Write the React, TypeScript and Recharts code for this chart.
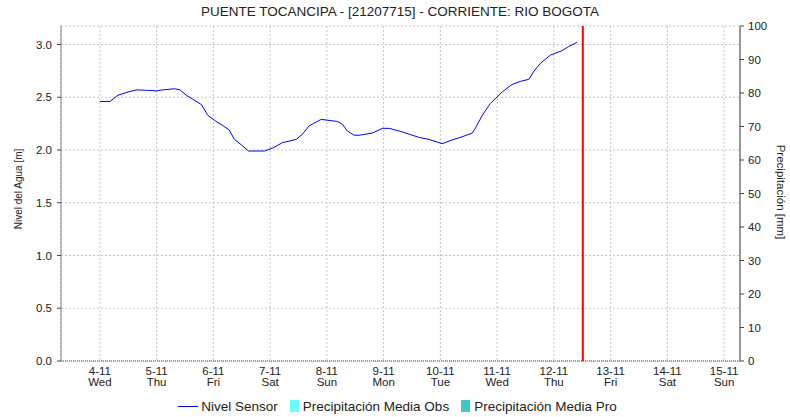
import React from "react";
import {
  ComposedChart,
  Line,
  Bar,
  XAxis,
  YAxis,
  CartesianGrid,
  ReferenceLine,
  Legend,
} from "recharts";

// Time in days since 4-11 00:00
const times = [
  0.0, 0.18, 0.32, 0.5, 0.65, 0.85, 1.0, 1.11, 1.32, 1.41, 1.52, 1.64, 1.79,
  1.9, 2.02, 2.17, 2.28, 2.37, 2.49, 2.62, 2.9, 3.05, 3.22, 3.46, 3.57, 3.69,
  3.9, 4.04, 4.19, 4.28, 4.36, 4.48, 4.57, 4.8, 4.98, 5.1, 5.27, 5.45, 5.62,
  5.8, 6.03, 6.21, 6.41, 6.56, 6.62, 6.74, 6.88, 7.09, 7.26, 7.41, 7.56, 7.64,
  7.76, 7.94, 8.14, 8.26, 8.41,
];
const nivelSensor = [
  2.46, 2.46, 2.52, 2.55, 2.57, 2.565, 2.56, 2.57, 2.58, 2.57, 2.52, 2.48, 2.43,
  2.33, 2.28, 2.23, 2.19, 2.1, 2.05, 1.99, 1.99, 2.02, 2.07, 2.1, 2.15, 2.23,
  2.29, 2.28, 2.27, 2.24, 2.18, 2.14, 2.14, 2.16, 2.205, 2.205, 2.18, 2.15,
  2.12, 2.1, 2.06, 2.095, 2.13, 2.16, 2.21, 2.33, 2.44, 2.55, 2.62, 2.65, 2.67,
  2.74, 2.82, 2.9, 2.94, 2.98, 3.02,
];
const dayTicks = [0, 1, 2, 3, 4, 5, 6, 7, 8, 9, 10, 11];
const dateLabels = [
  "4-11", "5-11", "6-11", "7-11", "8-11", "9-11", "10-11", "11-11", "12-11",
  "13-11", "14-11", "15-11",
];
const weekdayLabels = [
  "Wed", "Thu", "Fri", "Sat", "Sun", "Mon", "Tue", "Wed", "Thu", "Fri", "Sat",
  "Sun",
];
const levelTicks = [0, 0.5, 1.0, 1.5, 2.0, 2.5, 3.0];
const precipTicks = [0, 10, 20, 30, 40, 50, 60, 70, 80, 90, 100];
const nowMarker = 8.51;
const xDomain = [-0.685, 11.28];
const levelDomain = [0, 3.175];
const precipDomain = [0, 100];

const legendItems = [
  { name: "Nivel Sensor", kind: "line", color: "#0000ff" },
  { name: "Precipitación Media Obs", kind: "square", color: "#66ffff" },
  { name: "Precipitación Media Pro", kind: "square", color: "#40c8c8" },
];

// No precipitation values are shown in the chart (empty series)
const data = times.map((t, i) => ({ t, nivel: nivelSensor[i] }));

const FONT = "'Liberation Sans', Arial, sans-serif";

const XTick = (props: any) => {
  const { x, y, payload } = props;
  const idx = dayTicks.indexOf(payload.value);
  return (
    <g>
      <text x={x} y={y + 6} textAnchor="middle" fontSize={11.5} fill="#222" fontFamily={FONT}>
        {dateLabels[idx]}
      </text>
      <text x={x} y={y + 17} textAnchor="middle" fontSize={11.5} fill="#222" fontFamily={FONT}>
        {weekdayLabels[idx]}
      </text>
    </g>
  );
};

const LegendContent = () => (
  <div
    style={{
      display: "flex",
      justifyContent: "center",
      alignItems: "center",
      fontFamily: FONT,
      fontSize: 13.5,
      color: "#222",
      height: 18,
      paddingLeft: 6,
    }}
  >
    {legendItems.map((it) => (
      <div key={it.name} style={{ display: "flex", alignItems: "center", marginRight: 12 }}>
        {it.kind === "line" ? (
          <div style={{ width: 20, height: 1, background: it.color, marginRight: 3 }} />
        ) : (
          <div style={{ width: 9, height: 12, background: it.color, marginRight: 4 }} />
        )}
        <span>{it.name}</span>
      </div>
    ))}
  </div>
);

export default function App() {
  return (
    <div style={{ position: "absolute", left: 0, top: 0, width: 790, height: 417, background: "#fff" }}>
      <div
        style={{
          position: "absolute",
          top: 4,
          left: 0,
          width: 800,
          textAlign: "center",
          fontFamily: FONT,
          fontSize: 13.5,
          color: "#222",
        }}
      >
        PUENTE TOCANCIPA - [21207715] - CORRIENTE: RIO BOGOTA
      </div>
      <div
        style={{
          position: "absolute",
          left: 18,
          top: 189,
          transform: "translate(-50%, -50%) rotate(-90deg)",
          fontFamily: FONT,
          fontSize: 10,
          color: "#222",
          whiteSpace: "nowrap",
        }}
      >
        Nivel del Agua [m]
      </div>
      <div
        style={{
          position: "absolute",
          left: 781,
          top: 192,
          transform: "translate(-50%, -50%) rotate(90deg)",
          fontFamily: FONT,
          fontSize: 11.5,
          color: "#222",
          whiteSpace: "nowrap",
        }}
      >
        Precipitación [mm]
      </div>
      <ComposedChart
        width={790}
        height={417}
        data={data}
        margin={{ top: 26, right: 10, bottom: 2, left: 21 }}
      >
        <CartesianGrid stroke="#c4c4c4" strokeDasharray="2 2" />
        <XAxis
          dataKey="t"
          type="number"
          domain={xDomain}
          ticks={dayTicks}
          allowDataOverflow
          height={36}
          tick={<XTick />}
          tickLine={false}
          axisLine={{ stroke: "#444", strokeDasharray: "1 1" }}
        />
        <XAxis
          xAxisId="top"
          orientation="top"
          type="number"
          domain={xDomain}
          allowDataOverflow
          height={0}
          tick={false}
          tickLine={false}
          axisLine={{ stroke: "#999" }}
        />
        <YAxis
          type="number"
          domain={levelDomain}
          ticks={levelTicks}
          allowDataOverflow
          width={40}
          tickSize={4}
          tickMargin={5}
          tickFormatter={(v: number) => v.toFixed(1)}
          tick={{ fontSize: 11.5, fill: "#222", fontFamily: FONT }}
          axisLine={{ stroke: "#888" }}
          tickLine={{ stroke: "#444" }}
        />
        <YAxis
          yAxisId="right"
          orientation="right"
          type="number"
          domain={precipDomain}
          ticks={precipTicks}
          allowDataOverflow
          width={40}
          tickSize={4}
          tickMargin={4}
          tick={{ fontSize: 11.5, fill: "#222", fontFamily: FONT }}
          axisLine={{ stroke: "#999", strokeWidth: 2 }}
          tickLine={{ stroke: "#444" }}
        />
        <Bar
          yAxisId="right"
          dataKey="obs"
          fill="#66ffff"
          name="Precipitación Media Obs"
          isAnimationActive={false}
        />
        <Bar
          yAxisId="right"
          dataKey="pro"
          fill="#40c8c8"
          name="Precipitación Media Pro"
          isAnimationActive={false}
        />
        <ReferenceLine x={nowMarker} stroke="#ff0000" strokeWidth={2} />
        <Line
          type="linear"
          dataKey="nivel"
          stroke="#0000ff"
          strokeWidth={1}
          dot={false}
          isAnimationActive={false}
          name="Nivel Sensor"
        />
        <Legend verticalAlign="bottom" content={<LegendContent />} />
      </ComposedChart>
    </div>
  );
}
